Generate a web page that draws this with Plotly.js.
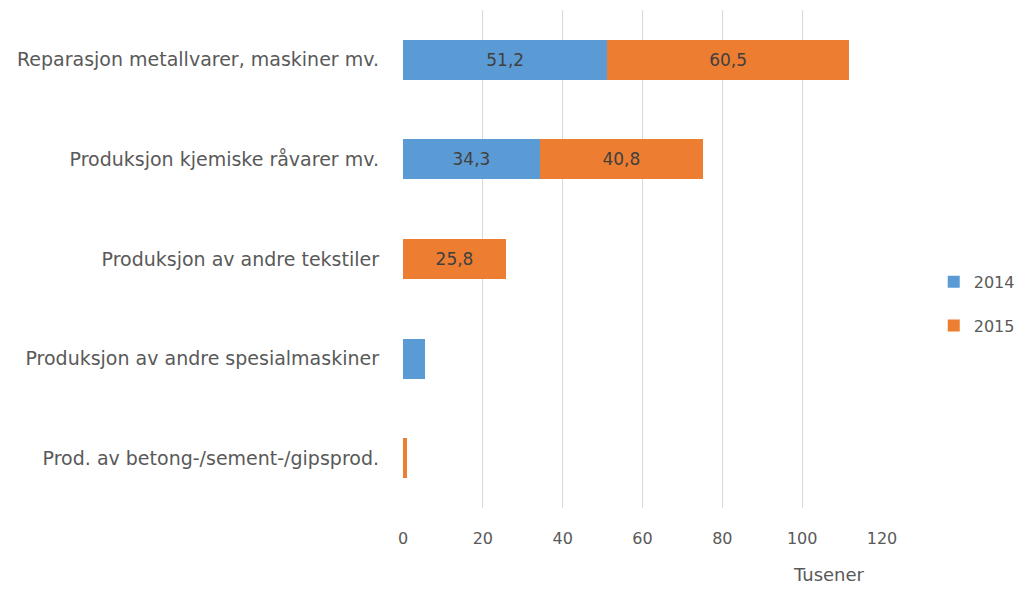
<!DOCTYPE html>
<html>
<head>
<meta charset="utf-8">
<script src="https://cdn.plot.ly/plotly-3.0.1.min.js"></script>
<style>html,body{margin:0;padding:0;background:#fff}#chart{width:1030px;height:591px}</style>
</head>
<body>
<div id="chart"></div>
<script>
const categories = [
  "Reparasjon metallvarer, maskiner mv.",
  "Produksjon kjemiske råvarer mv.",
  "Produksjon av andre tekstiler",
  "Produksjon av andre spesialmaskiner",
  "Prod. av betong-/sement-/gipsprod."
];
const values2014 = [51.2, 34.3, null, 5.6, null];
const values2015 = [60.5, 40.8, 25.8, null, 1.1];
const seriesNames = ["2014", "2015"];
const xTicks = [0, 20, 40, 60, 80, 100, 120];

const fmt = v => (v !== null && v >= 10) ? v.toFixed(1).replace('.', ',') : '';
const FONT = 'DejaVu Sans, sans-serif';

const traces = [
  {values: values2014, color: '#5B9BD5', name: seriesNames[0]},
  {values: values2015, color: '#ED7D31', name: seriesNames[1]}
].map((s, i) => ({
  type: 'bar',
  orientation: 'h',
  y: categories,
  x: s.values,
  name: s.name,
  legendgroup: 'g' + i,
  marker: {color: s.color, line: {width: 0}},
  text: s.values.map(fmt),
  textposition: 'inside',
  insidetextanchor: 'middle',
  textangle: 0,
  textfont: {family: FONT, size: 17, color: '#404040'},
  hoverinfo: 'x+name'
}));

const layout = {
  width: 1030,
  height: 591,
  margin: {l: 403, r: 148, t: 10, b: 83},
  paper_bgcolor: '#ffffff',
  plot_bgcolor: '#ffffff',
  barmode: 'stack',
  bargap: 0.6,
  font: {family: FONT, size: 16, color: '#595959'},
  showlegend: true,
  legend: {
    x: 1.108, xanchor: 'left',
    y: 0.41, yanchor: 'middle',
    traceorder: 'grouped',
    tracegroupgap: 20,
    font: {family: FONT, size: 16, color: '#595959'}
  },
  xaxis: {
    range: [0, 120],
    tickvals: xTicks,
    ticktext: xTicks.map(String),
    showgrid: true,
    gridcolor: '#D9D9D9',
    gridwidth: 1,
    zeroline: false,
    showline: false,
    ticks: '',
    ticklabelstandoff: 19,
    tickfont: {family: FONT, size: 16, color: '#595959'}
  },
  yaxis: {
    autorange: 'reversed',
    showgrid: false,
    zeroline: false,
    showline: false,
    ticks: '',
    ticklabelstandoff: 23,
    tickfont: {family: FONT, size: 19, color: '#595959'}
  },
  annotations: [{
    text: 'Tusener',
    xref: 'paper', yref: 'paper',
    x: 0.889, y: -0.1345,
    xanchor: 'center', yanchor: 'middle',
    showarrow: false,
    font: {family: FONT, size: 18, color: '#595959'}
  }]
};

Plotly.newPlot('chart', traces, layout, {displayModeBar: false, staticPlot: true});
</script>
</body>
</html>
